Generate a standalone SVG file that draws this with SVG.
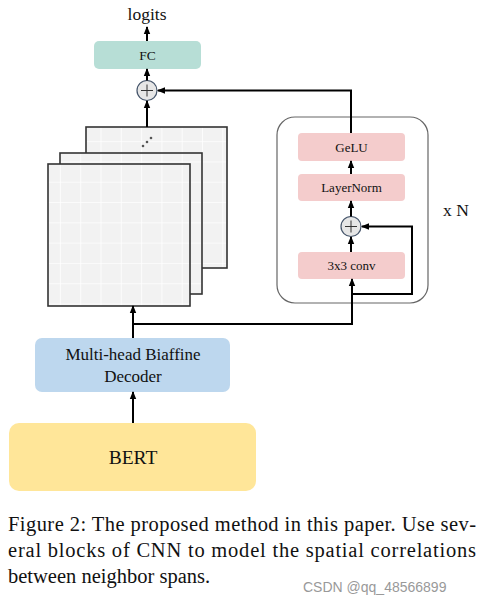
<svg xmlns="http://www.w3.org/2000/svg" width="488" height="606" viewBox="0 0 488 606">
<defs>
<marker id="ah" viewBox="0 0 8 8" refX="7" refY="4" markerWidth="8" markerHeight="8" markerUnits="userSpaceOnUse" orient="auto">
<path d="M0,0.8 L8,4 L0,7.2 Z" fill="#000"/>
</marker>
<pattern id="grid" x="0" y="0" width="20.3" height="20.3" patternUnits="userSpaceOnUse">
<rect width="20.3" height="20.3" fill="#f2f2f2"/>
<path d="M20.3,0 V20.3 M0,20.3 H20.3" stroke="#fff" stroke-width="1.5" fill="none"/>
</pattern>
</defs>
<style>
.t{font-family:"Liberation Serif","Times New Roman",serif;fill:#111;text-anchor:middle}
.c{fill:none;stroke:#000;stroke-width:2}
.card{stroke:#333;stroke-width:1.6}
.pink{fill:#f4cccc}
.plus{fill:#e6e6e6;stroke:#44546a;stroke-width:1.2}
</style>
<rect width="488" height="606" fill="#fff"/>

<g id="logits"><text class="t" x="147" y="20" font-size="17.5">logits</text></g>
<g id="fc"><rect x="94" y="41" width="107" height="28" rx="5" fill="#b7ded6"/><text class="t" x="147.5" y="60" font-size="13.5">FC</text></g>
<g id="add-top"><circle class="plus" cx="147" cy="90.5" r="10"/><path d="M141,90.5 H153 M147,84.5 V96.5" stroke="#333" stroke-width="1"/></g>

<g id="feature-maps">
<rect class="card" x="86" y="127" width="141" height="141" fill="url(#grid)"/>
<circle cx="143" cy="146" r="1.3" fill="#555"/><circle cx="147" cy="142" r="1.3" fill="#555"/><circle cx="151" cy="138" r="1.3" fill="#555"/>
<rect class="card" x="60" y="153" width="142" height="141" fill="url(#grid)"/>
<rect class="card" x="48" y="164" width="142" height="142" fill="url(#grid)"/>
</g>

<g id="cnn-block">
<rect x="277" y="117" width="151" height="186" rx="18" fill="#fff" stroke="#666" stroke-width="1.2"/>
</g>
<g id="gelu"><rect class="pink" x="298" y="133" width="107" height="28" rx="4"/><text class="t" x="351.5" y="152" font-size="13">GeLU</text></g>
<g id="layernorm"><rect class="pink" x="298" y="174" width="107" height="27" rx="4"/><text class="t" x="351.5" y="192" font-size="13">LayerNorm</text></g>
<g id="add-block"><circle class="plus" cx="351" cy="226.5" r="10"/><path d="M345,226.5 H357 M351,220.5 V232.5" stroke="#333" stroke-width="1"/></g>
<g id="conv"><rect class="pink" x="298" y="252" width="107" height="27" rx="4"/><text class="t" x="351.5" y="270" font-size="13">3x3 conv</text></g>
<g id="xn"><text class="t" x="456" y="216" font-size="17.5">x N</text></g>

<g id="decoder"><rect x="35" y="338" width="195" height="54" rx="7" fill="#bdd7ee"/>
<text class="t" x="133" y="360" font-size="17">Multi-head Biaffine</text><text class="t" x="133" y="382" font-size="17">Decoder</text></g>
<g id="bert"><rect x="9" y="423" width="247" height="68" rx="10" fill="#ffe699"/><text class="t" x="133" y="464" font-size="19.5">BERT</text></g>

<g id="connectors">
<path class="c" d="M147,41 V27" marker-end="url(#ah)"/>
<path class="c" d="M147,80.5 V69" marker-end="url(#ah)"/>
<path class="c" d="M147,127 V101" marker-end="url(#ah)"/>
<path class="c" d="M351,133 V90.5 H158" marker-end="url(#ah)"/>
<path class="c" d="M351,174 V161" marker-end="url(#ah)"/>
<path class="c" d="M351,216.5 V201" marker-end="url(#ah)"/>
<path class="c" d="M351,252 V237" marker-end="url(#ah)"/>
<path class="c" d="M351,294 H412 V226.5 H362" marker-end="url(#ah)"/>
<path class="c" d="M133,324 H352 V279" marker-end="url(#ah)"/>
<path class="c" d="M133,338 V306" marker-end="url(#ah)"/>
<path class="c" d="M133,423 V392" marker-end="url(#ah)"/>
</g>

<g id="caption" font-family="'Liberation Serif','Times New Roman',serif" font-size="20.5" fill="#111">
<text x="8" y="531" textLength="468" lengthAdjust="spacing">Figure 2: The proposed method in this paper. Use sev-</text>
<text x="8" y="557" textLength="468" lengthAdjust="spacing">eral blocks of CNN to model the spatial correlations</text>
<text x="8" y="583">between neighbor spans.</text>
</g>
<g id="watermark"><text x="303" y="592" font-family="'Liberation Sans',Arial,sans-serif" font-size="14" fill="#999">CSDN @qq_48566899</text></g>
</svg>
